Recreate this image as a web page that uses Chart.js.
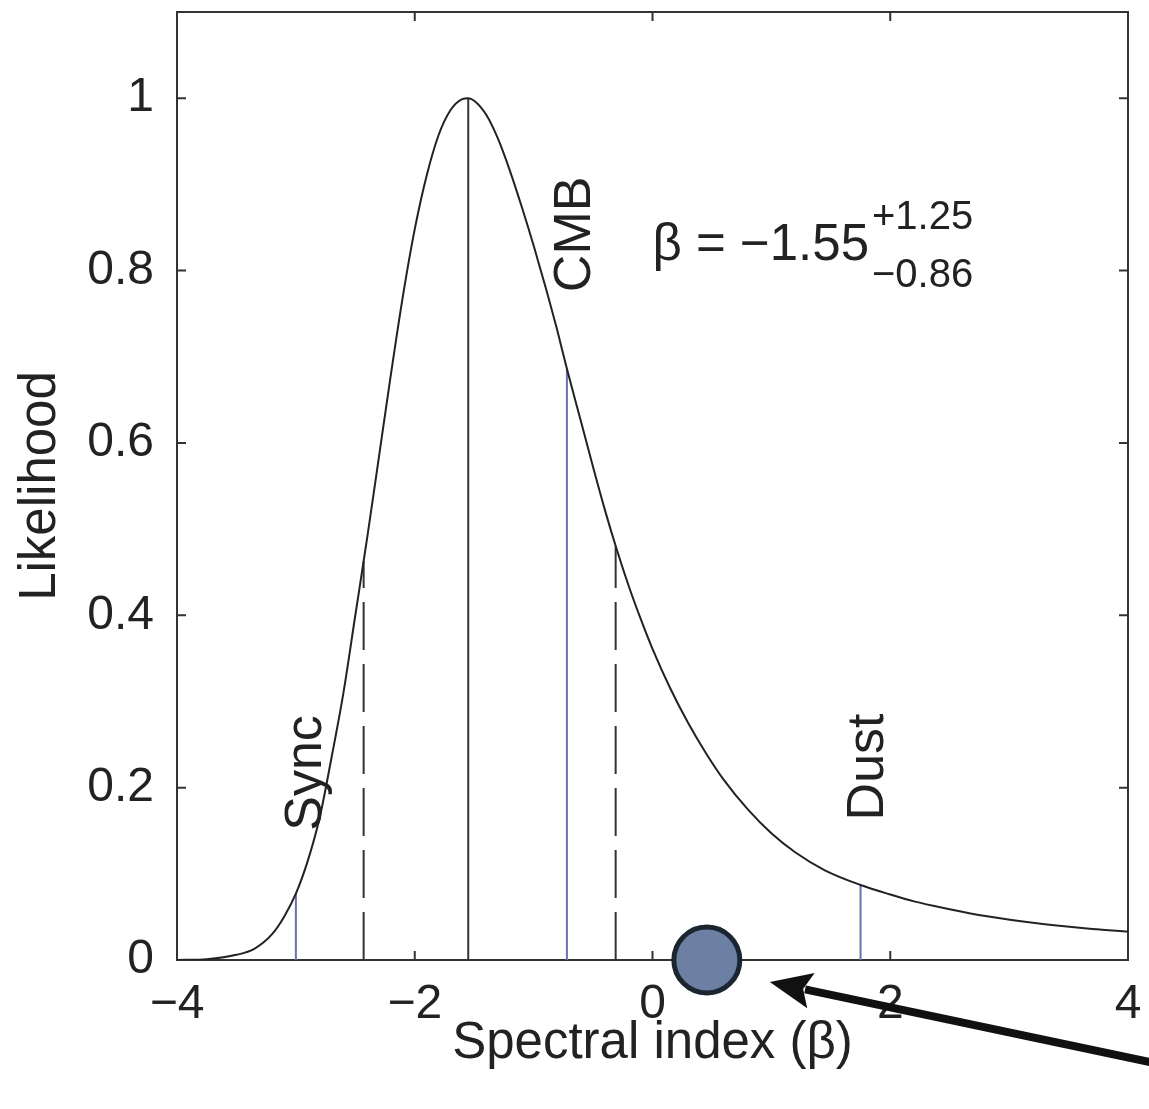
<!DOCTYPE html>
<html>
<head>
<meta charset="utf-8">
<script src="https://cdn.jsdelivr.net/npm/chart.js@4.4.0/dist/chart.umd.min.js"></script>
<style>
  html, body { margin: 0; padding: 0; background: #fff; }
</style>
</head>
<body>
<canvas id="likelihood" width="1149" height="1109"></canvas>
<script>
// ---------------- data ----------------
let curveX = [-4.0, -3.75, -3.5, -3.35, -3.2, -3.1, -3.0, -2.9, -2.8, -2.7, -2.6, -2.5, -2.4, -2.3, -2.2, -2.1,
  -2.0, -1.9, -1.8, -1.7, -1.6, -1.55, -1.5, -1.4, -1.3, -1.2, -1.1, -1.0, -0.9, -0.8, -0.72, -0.6, -0.5,
  -0.4, -0.3, -0.2, -0.1, 0.0, 0.15, 0.3, 0.45, 0.6, 0.8, 1.0, 1.2, 1.45, 1.75, 2.0, 2.2, 2.5, 2.8, 3.1,
  3.4, 3.7, 4.0];
let curveY = [0, 0.001, 0.006, 0.013, 0.03, 0.05, 0.077, 0.115, 0.165, 0.235, 0.31, 0.4, 0.49, 0.585, 0.68, 0.77,
  0.848, 0.91, 0.957, 0.986, 0.999, 1.0, 0.997, 0.981, 0.953, 0.916, 0.874, 0.829, 0.781, 0.73, 0.686, 0.624, 0.572,
  0.522, 0.476, 0.434, 0.396, 0.361, 0.315, 0.275, 0.24, 0.209, 0.175, 0.147, 0.125, 0.104, 0.087, 0.076, 0.068,
  0.059, 0.051, 0.045, 0.04, 0.036, 0.033];

// vertical markers: Sync, -1 sigma, best fit, CMB, +1 sigma, Dust
let markerX = [-3.0, -2.43, -1.55, -0.72, -0.31, 1.75];
let markerTop = [0.077, 0.463, 1.0, 0.686, 0.48, 0.087];
let markerKind = ["blue", "dash", "solid", "blue", "dash", "blue"];

let xTicks = [-4, -2, 0, 2, 4];
let yTicks = [0, 0.2, 0.4, 0.6, 0.8, 1];

let labelNames = ["Sync", "CMB", "Dust"];
let labelX = [-2.91, -0.65, 1.82];
let labelY = [0.217, 0.842, 0.224];

let bestFit = "\u22121.55";
let errPlus = "+1.25";
let errMinus = "\u22120.86";

let dotX = [0.457];
let dotY = [0];

// ------------------------------------------------------------
const FONT = "'Liberation Sans', Arial, Helvetica, sans-serif";
const INK = "#222";
const BLUE = "#6c70ad";

let fmt = (v) => (v < 0 ? "\u2212" + Math.abs(v) : String(v));

let markerSets = markerX.map((x, i) => {
  let kind = markerKind[i];
  return {
    type: "line",
    data: [{ x: x, y: 0 }, { x: x, y: markerTop[i] }],
    borderColor: kind == "blue" ? BLUE : "#333",
    borderWidth: 2,
    borderDash: kind == "dash" ? [48, 14] : [],
    pointRadius: 0,
    order: 3,
  };
});

// frame + inward tick marks on all four sides
const frameTicks = {
  id: "frameTicks",
  beforeDatasetsDraw(chart) {
    let { ctx, chartArea: a, scales } = chart;
    ctx.save();
    ctx.strokeStyle = "#333";
    ctx.lineWidth = 2;
    ctx.strokeRect(a.left, a.top, a.right - a.left, a.bottom - a.top);
    let len = 9;
    ctx.beginPath();
    xTicks.forEach((t) => {
      let px = scales.x.getPixelForValue(t);
      ctx.moveTo(px, a.bottom); ctx.lineTo(px, a.bottom - len);
      ctx.moveTo(px, a.top); ctx.lineTo(px, a.top + len);
    });
    yTicks.forEach((t) => {
      let py = scales.y.getPixelForValue(t);
      ctx.moveTo(a.left, py); ctx.lineTo(a.left + len, py);
      ctx.moveTo(a.right, py); ctx.lineTo(a.right - len, py);
    });
    ctx.stroke();
    ctx.restore();
  },
};

// rotated labels, the fit result and the arrow
const notes = {
  id: "notes",
  afterDatasetsDraw(chart) {
    let { ctx, scales } = chart;
    let sx = (v) => scales.x.getPixelForValue(v);
    let sy = (v) => scales.y.getPixelForValue(v);
    ctx.save();
    ctx.fillStyle = INK;
    ctx.font = "52px " + FONT;
    ctx.textAlign = "center";
    ctx.textBaseline = "middle";
    labelNames.forEach((name, i) => {
      ctx.save();
      ctx.translate(sx(labelX[i]), sy(labelY[i]));
      ctx.rotate(-Math.PI / 2);
      ctx.fillText(name, 0, 0);
      ctx.restore();
    });

    // beta = -1.55 (+1.25 / -0.86)
    let bx = sx(0.0);
    let by = sy(0.812);
    ctx.textAlign = "left";
    ctx.textBaseline = "alphabetic";
    ctx.font = "51px " + FONT;
    let main = "\u03b2 = " + bestFit;
    ctx.fillText(main, bx, by);
    let w = ctx.measureText(main).width;
    ctx.font = "40px " + FONT;
    ctx.fillText(errPlus, bx + w + 3, by - 31);
    ctx.fillText(errMinus, bx + w + 3, by + 27);

    // arrow pointing at the dot
    let tipX = sx(0.987), tipY = sy(-0.0255);
    let tailX = sx(4.27), tailY = sy(-0.121);
    let ang = Math.atan2(tipY - tailY, tipX - tailX);
    let headLen = 42, headHalf = 18;
    let baseX = tipX - headLen * Math.cos(ang);
    let baseY = tipY - headLen * Math.sin(ang);
    ctx.strokeStyle = "#111";
    ctx.fillStyle = "#111";
    ctx.lineWidth = 8;
    ctx.beginPath();
    ctx.moveTo(tailX, tailY);
    ctx.lineTo(baseX + 6 * Math.cos(ang), baseY + 6 * Math.sin(ang));
    ctx.stroke();
    ctx.beginPath();
    ctx.moveTo(tipX, tipY);
    ctx.lineTo(baseX - headHalf * Math.sin(ang), baseY + headHalf * Math.cos(ang));
    ctx.lineTo(baseX + 8 * Math.cos(ang), baseY + 8 * Math.sin(ang));
    ctx.lineTo(baseX + headHalf * Math.sin(ang), baseY - headHalf * Math.cos(ang));
    ctx.closePath();
    ctx.fill();
    ctx.restore();
  },
};

new Chart(document.getElementById("likelihood"), {
  type: "line",
  data: {
    datasets: [
      {
        label: "Dot",
        type: "scatter",
        data: dotX.map((x, i) => ({ x: x, y: dotY[i] })),
        pointRadius: 33,
        pointBackgroundColor: "#6b80a3",
        pointBorderColor: "#1b2631",
        pointBorderWidth: 5,
        clip: false,
        order: 0,
      },
      {
        label: "Likelihood",
        data: curveX.map((x, i) => ({ x: x, y: curveY[i] })),
        borderColor: INK,
        borderWidth: 2,
        pointRadius: 0,
        cubicInterpolationMode: "monotone",
        order: 1,
      },
      ...markerSets,
    ],
  },
  options: {
    responsive: false,
    animation: false,
    devicePixelRatio: 1,
    layout: { autoPadding: false, padding: { top: 12, right: 21, left: 0, bottom: 0 } },
    plugins: {
      legend: { display: false },
      tooltip: { enabled: false },
    },
    scales: {
      x: {
        type: "linear",
        min: -4,
        max: 4,
        grid: { display: false },
        border: { display: false },
        afterBuildTicks: (s) => { s.ticks = xTicks.map((v) => ({ value: v })); },
        afterFit: (s) => {
          s.height = 149;
          s.paddingLeft = 0;
          s.paddingRight = 0;
        },
        ticks: {
          color: INK,
          padding: 8,
          maxRotation: 0,
          font: { family: FONT, size: 48 },
          callback: (v) => fmt(v),
        },
        title: {
          display: true,
          text: "Spectral index (\u03b2)",
          color: INK,
          font: { family: FONT, size: 51 },
          padding: { top: 0, bottom: 34 },
        },
      },
      y: {
        min: 0,
        max: 1.1,
        grid: { display: false },
        border: { display: false },
        afterBuildTicks: (s) => { s.ticks = yTicks.map((v) => ({ value: v })); },
        afterFit: (s) => {
          s.width = 177;
          s.paddingTop = 0;
          s.paddingBottom = 0;
        },
        ticks: {
          color: INK,
          padding: 15,
          font: { family: FONT, size: 48 },
          callback: (v) => fmt(v),
        },
        title: {
          display: true,
          text: "Likelihood",
          color: INK,
          font: { family: FONT, size: 51 },
          padding: { top: 10, bottom: 0 },
        },
      },
    },
  },
  plugins: [frameTicks, notes],
});
</script>
</body>
</html>
